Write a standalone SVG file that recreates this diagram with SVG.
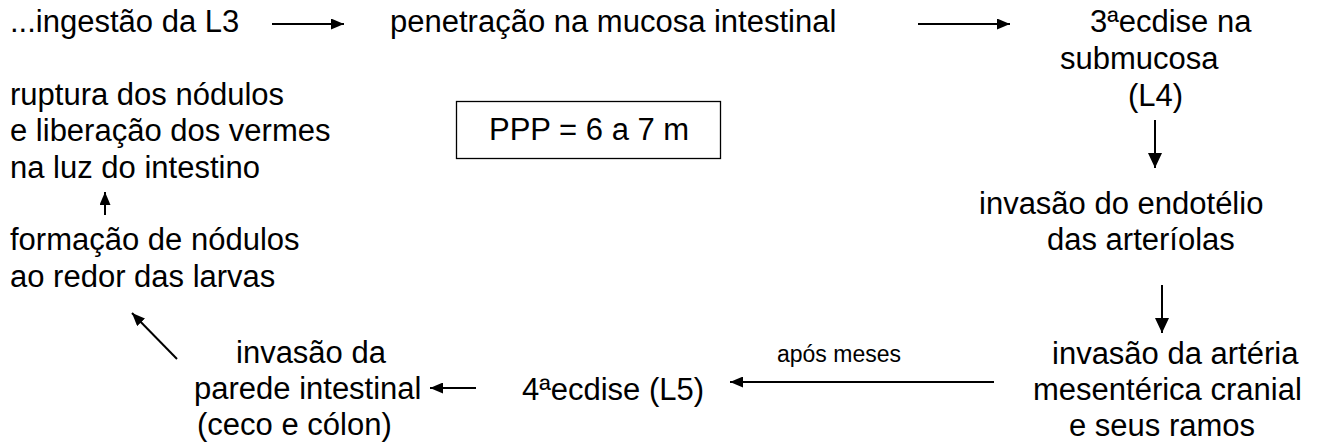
<svg xmlns="http://www.w3.org/2000/svg" width="1325" height="444" viewBox="0 0 1325 444">
<style>
text{font-family:"Liberation Sans",Arial,sans-serif;font-size:31px;fill:#000}
.s{font-size:23px}
.c{stroke:#000;stroke-width:2;fill:none}
</style>
<defs>
<marker id="ah" markerUnits="userSpaceOnUse" markerWidth="13" markerHeight="11" refX="13" refY="5.5" orient="auto">
<path d="M0,0 L13,5.5 L0,11 z" fill="#000"/>
</marker>
<marker id="av" markerUnits="userSpaceOnUse" markerWidth="15" markerHeight="14" refX="15" refY="7" orient="auto">
<path d="M0,0 L15,7 L0,14 z" fill="#000"/>
</marker>
</defs>
<rect width="1325" height="444" fill="#fff"/>
<g id="n1"><text x="10" y="32">...ingestão da L3</text></g>
<g id="n2"><text x="390" y="32">penetração na mucosa intestinal</text></g>
<g id="n3">
<text x="1090" y="32">3ªecdise na</text>
<text x="1060" y="69">submucosa</text>
<text x="1128" y="106">(L4)</text>
</g>
<g id="n4">
<text x="979" y="214">invasão do endotélio</text>
<text x="1047" y="250">das arteríolas</text>
</g>
<g id="n5">
<text x="1052" y="364">invasão da artéria</text>
<text x="1033" y="400">mesentérica cranial</text>
<text x="1069" y="436">e seus ramos</text>
</g>
<g id="n6"><text x="522" y="400">4ªecdise (L5)</text></g>
<g id="n7">
<text x="236" y="363">invasão da</text>
<text x="194" y="399">parede intestinal</text>
<text x="197" y="435">(ceco e cólon)</text>
</g>
<g id="n8">
<text x="10" y="250">formação de nódulos</text>
<text x="10" y="287">ao redor das larvas</text>
</g>
<g id="n9">
<text x="10" y="105">ruptura dos nódulos</text>
<text x="10" y="141">e liberação dos vermes</text>
<text x="10" y="178">na luz do intestino</text>
</g>
<g id="ppp">
<rect x="456.5" y="101.5" width="264" height="57" fill="none" stroke="#000" stroke-width="1.3"/>
<text x="489" y="140">PPP = 6 a 7 m</text>
</g>
<g id="connectors">
<line class="c" x1="272" y1="24" x2="344" y2="24" marker-end="url(#ah)"/>
<line class="c" x1="918" y1="24" x2="1010" y2="24" marker-end="url(#ah)"/>
<line class="c" x1="1155" y1="120" x2="1155" y2="168" marker-end="url(#av)"/>
<line class="c" x1="1162" y1="285" x2="1162" y2="333" marker-end="url(#av)"/>
<line class="c" x1="994" y1="382" x2="730" y2="382" marker-end="url(#ah)"/>
<line class="c" x1="476" y1="388" x2="430" y2="388" marker-end="url(#ah)"/>
<line class="c" x1="177" y1="359" x2="132" y2="313" marker-end="url(#ah)"/>
<line class="c" x1="105" y1="215" x2="105" y2="192" marker-end="url(#ah)"/>
<text class="s" x="777" y="362">após meses</text>
</g>
</svg>
